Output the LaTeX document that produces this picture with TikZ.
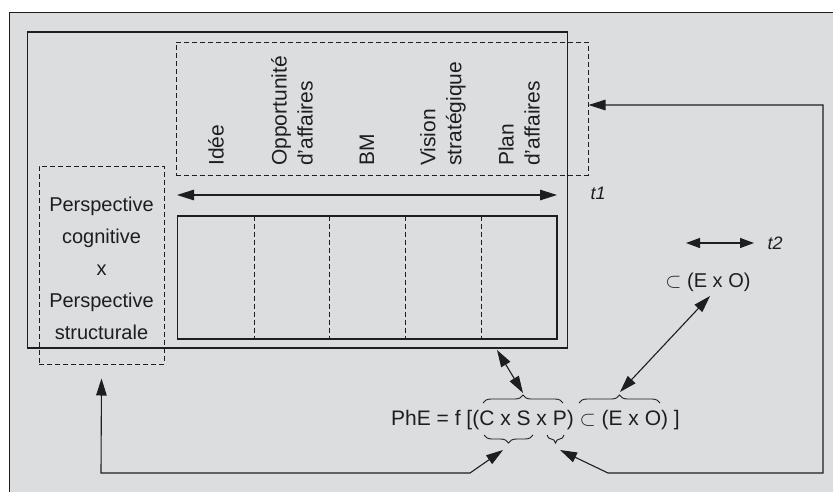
\documentclass[tikz,border=0pt]{standalone}
\usepackage{fontspec}
\setmainfont{Liberation Sans}
\usetikzlibrary{arrows.meta,decorations.pathreplacing}
\definecolor{bg}{HTML}{DCDDDF}
\definecolor{ink}{HTML}{1E1E1E}
\begin{document}
\begin{tikzpicture}[x=1pt,y=-1pt,
  every node/.style={text=ink},
  headA/.tip={Triangle[length=17pt,width=10.5pt]},
  headB/.tip={Triangle[length=14pt,width=10pt]},
  twoarrow/.style={draw=ink, line width=1.1pt, {headA}-{headA}},
  solidbox/.style={draw=ink, line width=1.4pt, inner sep=0pt},
  dashbox/.style={draw=ink, line width=1pt, dash pattern=on 5pt off 3pt, inner sep=0pt},
  divider/.style={draw=ink, line width=1pt, dash pattern=on 5pt off 3pt},
  vlabel/.style={rotate=90, anchor=west, inner sep=0pt, align=left, font=\fontsize{21}{26}\selectfont},
  tlabel/.style={inner sep=0pt, font=\itshape\fontsize{18}{20}\selectfont},
  bracedeco/.style={draw=ink, line width=0.9pt, decorate, decoration={brace, amplitude=8pt}}
]
\useasboundingbox (0,0) rectangle (833,491);
\fill[white] (0,0) rectangle (833,491);
\draw[fill=bg, draw=ink, line width=1.4pt] (9.5,12.5) rectangle (900,600);

% boxes
\node[solidbox, minimum width=540pt, minimum height=316pt] (main) at (297.5,190) {};
\node[dashbox, minimum width=412pt, minimum height=133pt] (topbox) at (382,108.5) {};
\node[dashbox, minimum width=125pt, minimum height=198pt] (leftbox) at (101.5,265) {};
\node[solidbox, line width=1.2pt, minimum width=379.5pt, minimum height=123pt] (table) at (367.25,277.5) {};
\foreach \xx in {254,329,405,481}
  \draw[divider] (\xx,216) -- (\xx,339);

% stage labels
\node[vlabel] (l1) at (216,166) {Idée};
\node[vlabel] (l2) at (292,166) {Opportunité\\d’affaires};
\node[vlabel] (l3) at (367,166) {BM};
\node[vlabel] (l4) at (443,166) {Vision\\stratégique};
\node[vlabel] (l5) at (519,166) {Plan\\d’affaires};

% perspective text
\node[inner sep=0pt, align=center, font=\fontsize{20}{32}\selectfont] (persp) at (101.5,268) {Perspective\\cognitive\\x\\Perspective\\structurale};

% t1 arrow
\coordinate (t1a) at (177,195);
\coordinate (t1b) at (557,195);
\draw[twoarrow] (t1a) -- (t1b);
\node[tlabel] (t1) at (598,193) {t1};

% t2 arrow
\coordinate (t2a) at (686,243);
\coordinate (t2b) at (754,243);
\draw[draw=ink, line width=1.1pt, {headB}-{headB}] (t2a) -- (t2b);
\node[tlabel] (t2) at (775,243) {t2};

% subset E x O
\node[inner sep=0pt, font=\fontsize{20}{24}\selectfont] (eo) at (708,282) {$\subset$ (E x O)};

% formula
\node[inner sep=0pt, font=\fontsize{21}{24}\selectfont] (phe) at (535.5,420) {PhE = f [(C x S x P) $\subset$ (E x O) ]};

% braces
\draw[bracedeco] (483,403) -- (563,403);
\draw[bracedeco] (579,403) -- (660,403);
\draw[bracedeco] (533,435) -- (484,435);
\draw[bracedeco] (564,435) -- (547,435);
\coordinate (csptop) at (523,393);
\coordinate (eotop) at (620,392);
\coordinate (csbot) at (503,450);
\coordinate (pbot) at (560,450);
\coordinate (mainpt) at (497,350);
\coordinate (eopt) at (710,296);

% connectors
\draw[twoarrow] (mainpt) -- (csptop);
\draw[twoarrow] (eopt) -- (eotop);
\draw[twoarrow] ([yshift=3.5pt]topbox.east) -| (823,473) -- (608,473) -- (pbot);
\draw[twoarrow] ([yshift=-14pt]leftbox.south) -- (101,473) -- (470,473) -- (csbot);
\end{tikzpicture}
\end{document}
